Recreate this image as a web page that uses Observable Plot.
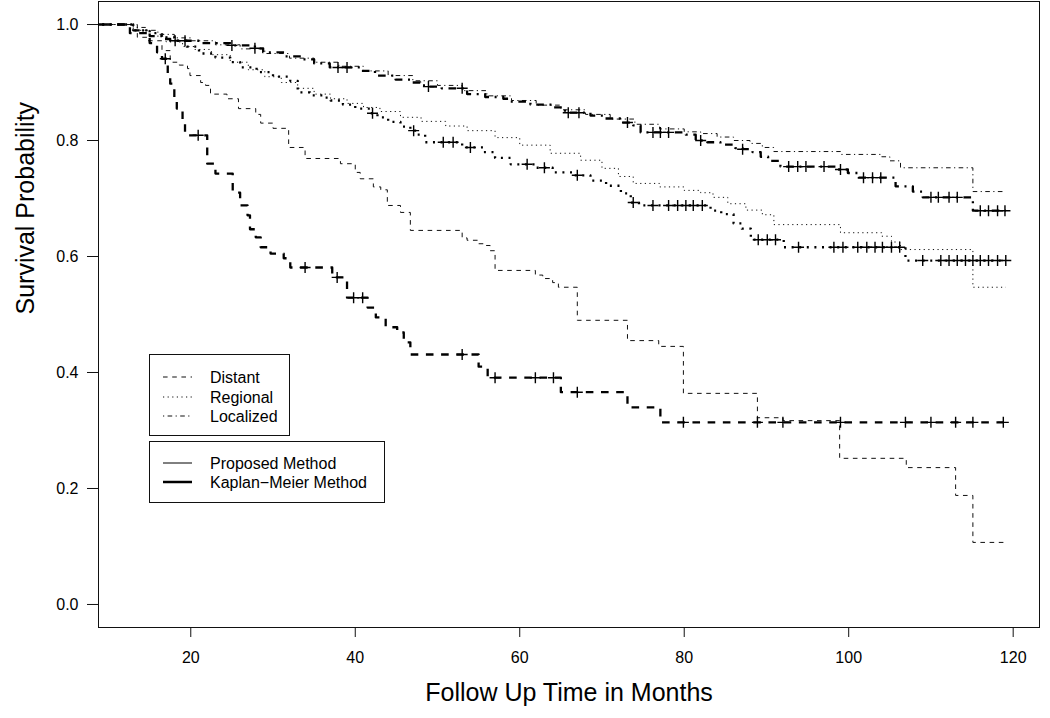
<!DOCTYPE html>
<html>
<head>
<meta charset="utf-8">
<script src="https://cdn.jsdelivr.net/npm/d3@7"></script>
<script src="https://cdn.jsdelivr.net/npm/@observablehq/plot@0.6"></script>
<style>
  body { margin: 0; background: #fff; font-family: "Liberation Sans", Arial, sans-serif; }
  #wrap { position: relative; width: 1050px; height: 718px; }
  #legend { position: absolute; left: 0; top: 0; pointer-events: none; }
</style>
</head>
<body>
<div id="wrap"></div>
<script>
// ---------- data: [month, survival probability] step points ----------
const distantKM = [[0,1],[12.6,0.985],[15.0,0.968],[15.9,0.952],[16.5,0.941],[17.2,0.915],[17.5,0.898],[18.0,0.873],[18.3,0.855],[19.0,0.83],[19.3,0.809],[22.0,0.760],[23.0,0.743],[25.1,0.710],[26.0,0.688],[26.9,0.671],[27.2,0.647],[27.9,0.633],[28.5,0.616],[29.7,0.605],[31.3,0.597],[32.1,0.581],[37.2,0.564],[39.0,0.529],[41.5,0.512],[42.5,0.495],[43.7,0.478],[45.1,0.469],[45.9,0.452],[46.7,0.431],[55.0,0.410],[56.1,0.391],[65.0,0.366],[73.1,0.340],[77.1,0.314],[119.1,0.314]];
const distantCensor = [16.9,20.9,33.9,37.8,39.8,40.9,53.0,57.0,61.9,64.1,67.0,79.9,88.9,92.0,99.0,106.9,110.0,113.0,115.1,118.8];
const distantProposed = [[0,1],[13.5,0.978],[14.8,0.972],[16.5,0.955],[17.5,0.935],[18.6,0.93],[19.6,0.924],[19.9,0.912],[21.2,0.9],[21.8,0.895],[22.4,0.88],[24.4,0.872],[25.8,0.855],[27.9,0.845],[28.5,0.83],[30.0,0.821],[31.9,0.788],[33.9,0.769],[38.2,0.760],[40.0,0.745],[40.6,0.734],[42.2,0.72],[43.1,0.715],[43.9,0.688],[45.5,0.676],[46.7,0.645],[53.0,0.632],[53.6,0.628],[55.0,0.622],[55.8,0.619],[56.4,0.610],[57.0,0.576],[61.9,0.568],[62.8,0.562],[64.0,0.555],[64.7,0.547],[67.0,0.490],[73.1,0.455],[76.9,0.445],[79.9,0.364],[88.9,0.322],[92.0,0.317],[98.9,0.252],[107.0,0.236],[113.0,0.188],[115.1,0.107],[119.1,0.107]];

const regionalKM = [[0,1],[13.0,0.99],[15.0,0.985],[16.5,0.978],[18.0,0.972],[19.5,0.962],[21.0,0.95],[23.0,0.943],[24.8,0.935],[26.0,0.926],[28.0,0.918],[30.0,0.91],[32.1,0.903],[33.0,0.883],[34.5,0.878],[36.1,0.874],[37.0,0.869],[38.5,0.862],[40.0,0.855],[41.8,0.847],[42.7,0.84],[44.0,0.832],[45.5,0.824],[46.7,0.817],[47.5,0.81],[48.5,0.797],[53.0,0.788],[55.6,0.78],[57.0,0.77],[58.9,0.759],[62.0,0.753],[64.0,0.745],[66.5,0.74],[68.6,0.731],[70.5,0.722],[72.3,0.709],[73.5,0.693],[74.5,0.688],[83.2,0.679],[84.5,0.673],[86.0,0.657],[87.0,0.648],[88.1,0.629],[92.1,0.616],[106.9,0.593],[119.1,0.593]];
const regionalCensor = [42.1,47.1,50.7,51.9,54.0,60.9,63.0,67.0,73.8,76.2,78.1,79.2,80.2,81.1,82.2,89.0,90.1,91.1,93.9,98.2,99.3,101.1,102.2,103.2,104.1,105.2,106.2,109.0,111.2,112.2,113.2,114.2,115.1,116.0,117.0,118.1,119.1];
const regionalProposed = [[0,1],[13.0,0.99],[15.0,0.98],[17.0,0.97],[19.0,0.962],[20.5,0.957],[22.5,0.948],[24.8,0.935],[27.0,0.922],[29.0,0.91],[31.0,0.9],[33.0,0.89],[35.0,0.88],[37.0,0.872],[39.0,0.864],[41.0,0.857],[43.0,0.85],[45.5,0.84],[48.0,0.833],[51.0,0.825],[53.6,0.817],[57.0,0.805],[60.0,0.792],[63.7,0.778],[67.4,0.766],[70.0,0.752],[72.0,0.738],[73.8,0.726],[77.0,0.72],[80.0,0.714],[82.0,0.71],[83.5,0.702],[85.3,0.691],[87.5,0.68],[89.5,0.672],[90.9,0.655],[99.0,0.641],[104.0,0.635],[105.2,0.625],[106.3,0.612],[115.1,0.547],[119.1,0.547]];

const localizedKM = [[0,1],[13.0,0.99],[15.0,0.98],[16.5,0.975],[17.5,0.972],[21.2,0.968],[25.0,0.964],[27.8,0.959],[28.8,0.952],[31.5,0.945],[33.5,0.94],[35.0,0.933],[36.9,0.926],[40.6,0.92],[42.4,0.912],[44.9,0.905],[46.7,0.9],[47.9,0.895],[48.8,0.893],[50.5,0.89],[53.6,0.88],[55.8,0.875],[58.0,0.872],[58.9,0.867],[61.3,0.862],[64.1,0.857],[65.5,0.848],[68.6,0.843],[70.4,0.838],[72.2,0.831],[73.8,0.826],[74.7,0.814],[80.2,0.81],[81.4,0.8],[82.8,0.797],[84.4,0.793],[86.2,0.787],[87.1,0.785],[88.3,0.78],[89.3,0.772],[90.2,0.765],[91.7,0.755],[98.4,0.75],[99.9,0.744],[101.2,0.736],[105.7,0.721],[107.8,0.712],[109.0,0.702],[115.1,0.679],[119.1,0.679]];
const localizedCensor = [18.1,19.3,25.0,27.8,37.9,39.0,48.9,53.0,65.9,67.2,73.1,76.2,77.1,78.1,82.0,87.1,92.7,93.8,94.8,97.0,99.0,101.8,102.9,103.9,110.0,110.9,112.2,113.2,116.0,117.0,118.1,119.0];
const localizedProposed = [[0,1],[13.0,0.995],[14.5,0.99],[16.0,0.983],[18.0,0.977],[20.0,0.972],[23.0,0.965],[26.0,0.958],[29.0,0.95],[32.0,0.942],[35.0,0.935],[38.0,0.928],[41.0,0.92],[44.0,0.912],[47.0,0.903],[50.0,0.895],[53.0,0.886],[56.0,0.877],[59.0,0.869],[62.0,0.861],[65.0,0.853],[68.0,0.845],[71.0,0.837],[74.0,0.828],[77.0,0.82],[80.0,0.815],[82.0,0.812],[84.0,0.806],[86.0,0.8],[88.0,0.795],[89.5,0.788],[90.9,0.781],[99.0,0.776],[104.0,0.772],[105.0,0.765],[106.3,0.753],[115.1,0.712],[119.1,0.712]];

const xTicks = [20, 40, 60, 80, 100, 120];
const yTicks = [0, 0.2, 0.4, 0.6, 0.8, 1.0];
const stageNames = ["Distant", "Regional", "Localized"];
const methodNames = ["Proposed Method", "Kaplan\u2212Meier Method"];
const xTitle = "Follow Up Time in Months";
const yTitle = "Survival Probability";

// ---------- styles ----------
const thinDash = {Distant: "4.6,4.6", Regional: "1.2,3.4", Localized: "1.2,3.4,4.6,3.4"};
const thickDash = {Distant: "7.6,7.6", Regional: "2,5.6", Localized: "2,5.6,7.6,5.6"};

function stepAt(curve, t) {
  let v = curve[0][1];
  for (const [m, s] of curve) { if (m <= t) v = s; else break; }
  return v;
}

const curves = [
  {stage: "Distant", km: distantKM, prop: distantProposed, cens: distantCensor},
  {stage: "Regional", km: regionalKM, prop: regionalProposed, cens: regionalCensor},
  {stage: "Localized", km: localizedKM, prop: localizedProposed, cens: localizedCensor}
];

const plusSymbol = {
  draw(ctx) { const h = 5.5; ctx.moveTo(-h, 0); ctx.lineTo(h, 0); ctx.moveTo(0, -h); ctx.lineTo(0, h); }
};

const marks = [Plot.frame({stroke: "#111", strokeWidth: 1})];
for (const c of curves) {
  marks.push(Plot.line(c.prop, {x: d => d[0], y: d => d[1], curve: "step-after", stroke: "#111", strokeWidth: 1, strokeDasharray: thinDash[c.stage], strokeLinecap: "butt", clip: true}));
  marks.push(Plot.line(c.km, {x: d => d[0], y: d => d[1], curve: "step-after", stroke: "#000", strokeWidth: 2.3, strokeDasharray: thickDash[c.stage], strokeLinecap: "butt", clip: true}));
  marks.push(Plot.dot(c.cens, {x: d => d, y: d => stepAt(c.km, d), symbol: plusSymbol, fill: "none", stroke: "#000", strokeWidth: 1.4, clip: true}));
}
marks.push(
  Plot.axisX({ticks: xTicks, tickSize: 10, tickPadding: 14, label: null, fontSize: 16, stroke: "#111"}),
  Plot.axisY({ticks: yTicks, tickFormat: d3.format(".1f"), tickSize: 11, tickPadding: 9, label: null, fontSize: 16, stroke: "#111"}),
  Plot.text([xTitle], {text: d => d, frameAnchor: "bottom", dy: 65, lineAnchor: "middle", fontSize: 25}),
  Plot.text([yTitle], {text: d => d, frameAnchor: "left", dx: -73, rotate: -90, lineAnchor: "middle", fontSize: 25})
);

const chart = Plot.plot({
  width: 1050, height: 718,
  marginLeft: 98, marginRight: 11, marginTop: 1, marginBottom: 91,
  x: {domain: [8.78, 123.2]},
  y: {domain: [-0.0397, 1.0397]},
  style: {fontFamily: "'Liberation Sans', Arial, sans-serif", fontSize: "16px", background: "#fff", color: "#000", overflow: "visible"},
  marks
});
const wrap = document.getElementById("wrap");
wrap.appendChild(chart);

// ---------- legend (overlay inside plot area) ----------
const lg = d3.select(wrap).append("svg").attr("id", "legend").attr("width", 1050).attr("height", 718)
  .style("font-family", "'Liberation Sans', Arial, sans-serif").style("font-size", "16px");
lg.append("rect").attr("x", 149.5).attr("y", 354.5).attr("width", 140).attr("height", 81)
  .attr("fill", "#fff").attr("stroke", "#111").attr("stroke-width", 1);
lg.append("rect").attr("x", 149.5).attr("y", 441.5).attr("width", 235).attr("height", 61)
  .attr("fill", "#fff").attr("stroke", "#111").attr("stroke-width", 1);
const rows1 = [377, 397, 416];
stageNames.forEach((s, i) => {
  lg.append("line").attr("x1", 163).attr("x2", 192).attr("y1", rows1[i]).attr("y2", rows1[i])
    .attr("stroke", "#111").attr("stroke-width", 1.2).attr("stroke-dasharray", thinDash[s]);
  lg.append("text").attr("x", 210).attr("y", rows1[i] + 5.5).text(s);
});
const rows2 = [463, 482];
methodNames.forEach((s, i) => {
  lg.append("line").attr("x1", 163).attr("x2", 192).attr("y1", rows2[i]).attr("y2", rows2[i])
    .attr("stroke", "#000").attr("stroke-width", i === 0 ? 1 : 2.5);
  lg.append("text").attr("x", 210).attr("y", rows2[i] + 5.5).text(s);
});
</script>
</body>
</html>
